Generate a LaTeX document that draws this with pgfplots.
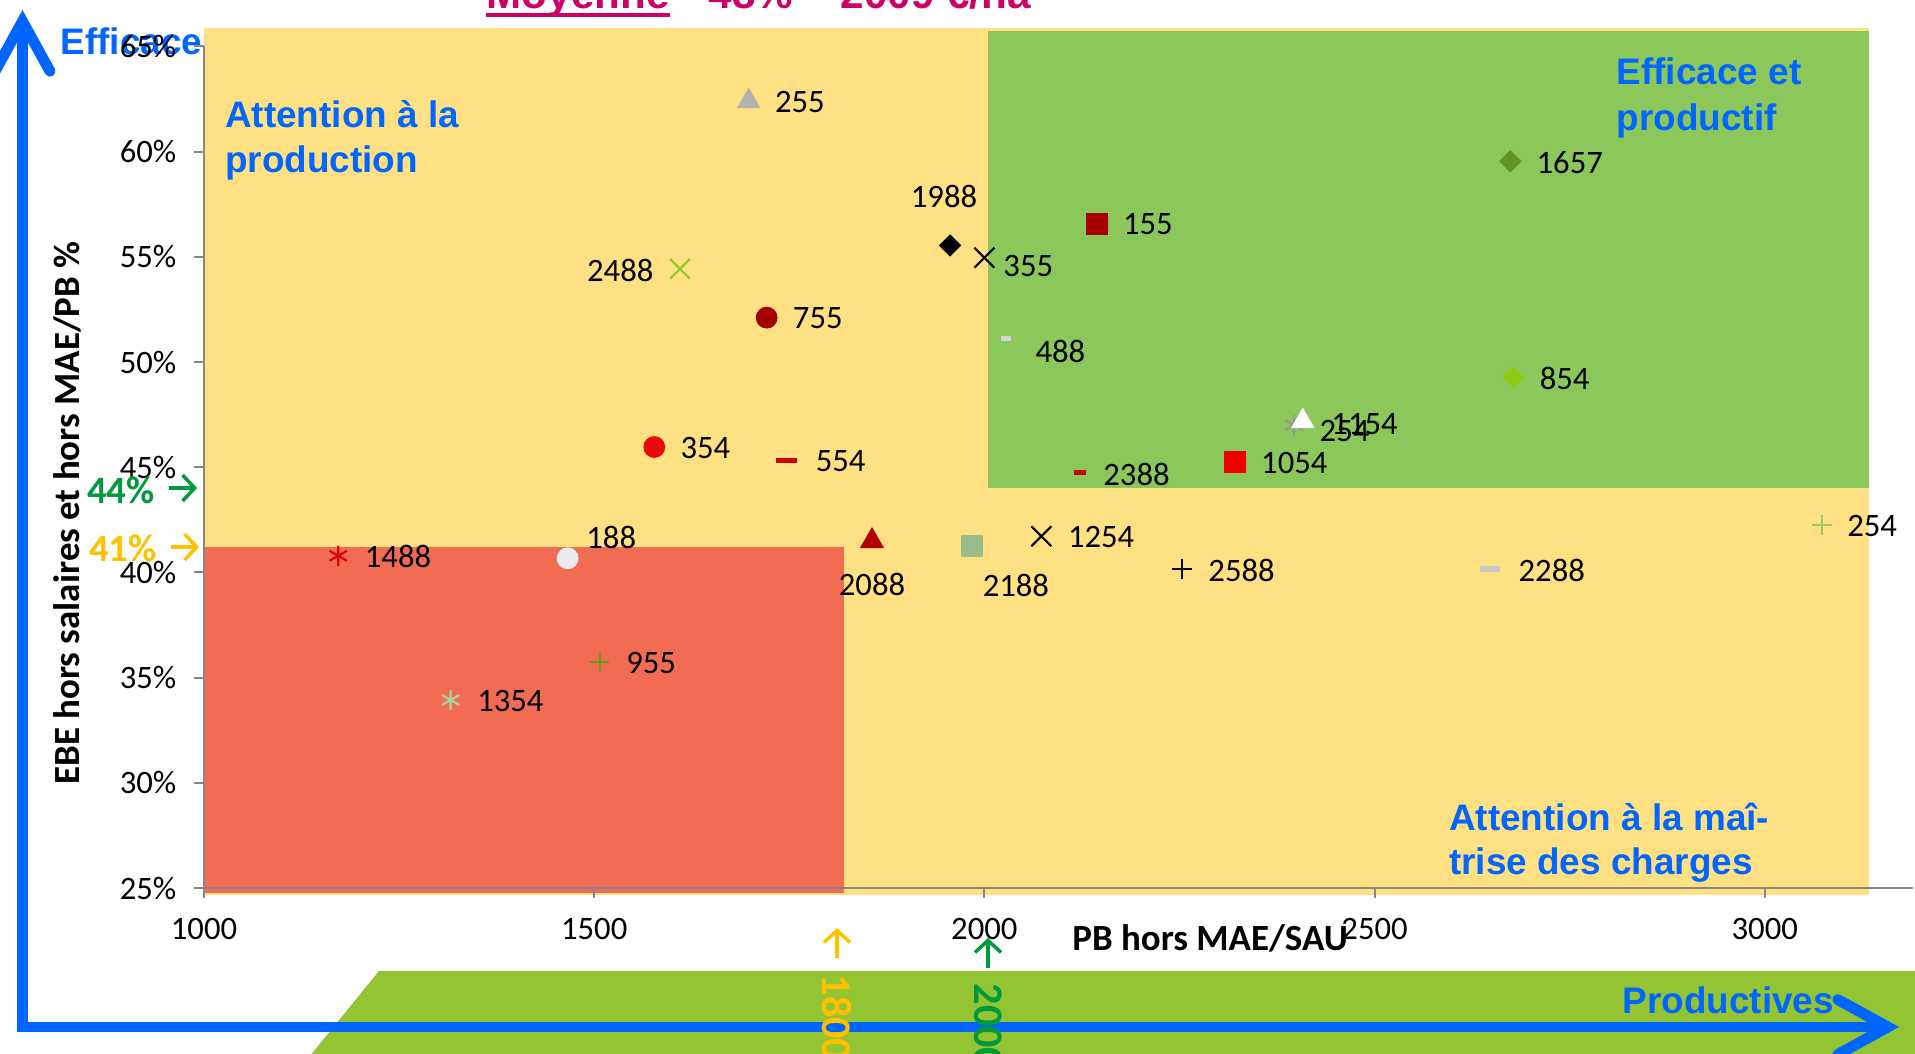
\documentclass[border=0pt]{standalone}
\usepackage{fontspec}
\setmainfont{Carlito}
\newfontfamily\arial{Liberation Sans}
\usepackage{pgfplots}
\pgfplotsset{compat=1.18}
\usetikzlibrary{arrows.meta}
\definecolor{ybg}{RGB}{255,224,130}
\definecolor{gbg}{RGB}{139,199,91}
\definecolor{rbg}{RGB}{242,108,84}
\definecolor{band}{RGB}{146,196,52}
\definecolor{bl}{RGB}{0,102,255}
\definecolor{mag}{RGB}{204,0,102}
\definecolor{org}{RGB}{255,192,0}
\definecolor{grn}{RGB}{0,153,60}
\definecolor{axg}{RGB}{134,134,134}
\definecolor{c255}{RGB}{178,178,178}
\definecolor{c155}{RGB}{168,0,0}
\definecolor{c755}{RGB}{165,0,0}
\definecolor{c354}{RGB}{232,10,10}
\definecolor{c554}{RGB}{200,0,0}
\definecolor{c1054}{RGB}{240,0,0}
\definecolor{c1488}{RGB}{225,0,0}
\definecolor{c2088}{RGB}{180,0,0}
\definecolor{c2188}{RGB}{155,187,140}
\definecolor{c2488}{RGB}{140,200,40}
\definecolor{c1657}{RGB}{96,150,30}
\definecolor{c854}{RGB}{140,205,20}
\definecolor{c254a}{RGB}{150,150,150}
\definecolor{c488}{RGB}{212,212,212}
\definecolor{c2288}{RGB}{200,200,200}
\definecolor{c254b}{RGB}{146,208,100}
\definecolor{c955}{RGB}{100,160,20}
\definecolor{c1354}{RGB}{165,215,160}
\definecolor{c188}{RGB}{235,235,240}
\newcommand\labfont{\fontsize{9.3}{11}\selectfont}
\newcommand\annfont{\arial\bfseries\fontsize{10.5}{12}\selectfont}
\begin{document}
\begin{tikzpicture}
% green band at the bottom
\fill[band] (1.75,-0.83) -- (17.4,-0.83) -- (17.4,-1.9) -- (0.88,-1.9) -- cycle;
\node[anchor=base west, inner sep=0pt, font=\annfont, text=bl] at (-1.44,8.33) {Efficaces};
\begin{axis}[
  scale only axis, width=17.09cm, height=8.416cm,
  xmin=1000, xmax=3190, ymin=25, ymax=65,
  clip=false, axis on top,
  axis x line=bottom, axis y line=left,
  axis line style={-, draw=axg, line width=0.6pt},
  tick style={draw=axg, line width=0.6pt},
  tick align=outside, major tick length=0.1cm,
  xtick={1000,1500,2000,2500,3000},
  xticklabels={1000,1500,2000,2500,3000},
  ytick={25,30,35,40,45,50,55,60,65},
  yticklabels={25\%,30\%,35\%,40\%,45\%,50\%,55\%,60\%,65\%},
  /pgf/number format/assume math mode=true,
  xticklabel style={font=\labfont, inner sep=0pt, yshift=-0.2cm},
  yticklabel style={font=\labfont, inner sep=0pt, xshift=-0.17cm},
  every axis x label/.style={at={(axis description cs:0.5887,-0.0594)}, anchor=center},
  every axis y label/.style={at={(axis description cs:-0.0802,0.4456)}, anchor=center, rotate=90},
  xlabel={\bfseries\fontsize{10.5}{12}\selectfont PB hors MAE/SAU},
  ylabel={\bfseries\fontsize{10.5}{12}\selectfont EBE hors salaires et hors MAE/PB \%},
  lab/.style={nodes near coords, point meta=explicit symbolic,
    nodes near coords style={anchor=west, xshift=0.256cm, yshift=-0.01cm, inner sep=0pt, font=\labfont, text=black}},
  labx/.style={nodes near coords, point meta=explicit symbolic,
    nodes near coords style={inner sep=0pt, font=\labfont, text=black, #1}},
  thinmk/.style={mark options={solid, line width=0.6pt}},
  diam/.style={mark=square*, mark size=2.05pt, mark options={solid, rotate=45}},
]
% background zones
\fill[ybg] (axis cs:1000,24.67) rectangle (axis cs:3133,65.87);
\fill[gbg] (axis cs:2005,44.01) rectangle (axis cs:3133,65.73);
\fill[rbg] (axis cs:1000,24.76) rectangle (axis cs:1820,41.21);

% points
\addplot[only marks, color=c255, mark=triangle*, mark size=3.5pt, lab] coordinates {(1698,62.39) [255]};
\addplot[only marks, color=black, diam, labx={anchor=center, xshift=-0.06cm, yshift=0.49cm}] coordinates {(1956,55.54) [1988]};
\addplot[only marks, color=black, mark=x, mark size=4pt, thinmk, labx={anchor=west, xshift=0.18cm, yshift=-0.085cm}] coordinates {(2000,54.96) [355]};
\addplot[only marks, color=c155, mark=square*, mark size=2.95pt, lab] coordinates {(2144,56.58) [155]};
\addplot[only marks, color=c2488, mark=x, mark size=4pt, thinmk, labx={anchor=east, xshift=-0.256cm, yshift=-0.02cm}] coordinates {(1610,54.43) [2488]};
\addplot[only marks, color=c755, mark=*, mark size=2.9pt, lab] coordinates {(1721,52.11) [755]};
\addplot[only marks, color=c488, mark=-, mark size=1.45pt, mark options={solid, line width=1.3pt}, labx={anchor=west, xshift=0.27cm, yshift=-0.13cm}] coordinates {(2028,51.12) [488]};
\addplot[only marks, color=c1657, diam, lab] coordinates {(2674,59.54) [1657]};
\addplot[only marks, color=c854, diam, lab] coordinates {(2678,49.27) [854]};
\addplot[only marks, color=c254a, mark=asterisk, mark size=2.85pt, thinmk, labx={anchor=west, xshift=0.245cm, yshift=-0.06cm}] coordinates {(2397,47.0) [254]};
\addplot[only marks, color=white, mark=triangle*, mark size=3.5pt, labx={anchor=west, xshift=0.28cm, yshift=-0.025cm}] coordinates {(2408,47.18) [1154]};
\addplot[only marks, color=c1054, mark=square*, mark size=2.95pt, lab] coordinates {(2321,45.26) [1054]};
\addplot[only marks, color=c554, mark=-, mark size=1.7pt, mark options={solid, line width=1.6pt}, labx={anchor=west, xshift=0.21cm, yshift=-0.02cm}] coordinates {(2122,44.74) [2388]};
\addplot[only marks, color=c354, mark=*, mark size=2.9pt, lab] coordinates {(1577,45.96) [354]};
\addplot[only marks, color=c554, mark=-, mark size=3pt, mark options={solid, line width=1.5pt}, labx={anchor=west, xshift=0.27cm, yshift=-0.01cm}] coordinates {(1746,45.32) [554]};
\addplot[only marks, color=c1488, mark=asterisk, mark size=2.85pt, thinmk, lab] coordinates {(1172,40.79) [1488]};
\addplot[only marks, color=c188, mark=*, mark size=2.9pt, labx={anchor=west, xshift=0.18cm, yshift=0.21cm}] coordinates {(1466,40.67) [188]};
\addplot[only marks, color=c2088, mark=triangle*, mark size=3.6pt, labx={anchor=center, xshift=0cm, yshift=-0.43cm}] coordinates {(1856,41.49) [2088]};
\addplot[only marks, color=c2188, mark=square*, mark size=2.95pt, labx={anchor=center, xshift=0.44cm, yshift=-0.40cm}] coordinates {(1984,41.26) [2188]};
\addplot[only marks, color=black, mark=x, mark size=4pt, thinmk, lab] coordinates {(2073,41.72) [1254]};
\addplot[only marks, color=black, mark=+, mark size=2.85pt, thinmk, lab] coordinates {(2253,40.15) [2588]};
\addplot[only marks, color=c2288, mark=-, mark size=2.9pt, mark options={solid, line width=1.7pt}, lab] coordinates {(2648,40.15) [2288]};
\addplot[only marks, color=c254b, mark=+, mark size=2.9pt, thinmk, labx={anchor=west, xshift=0.245cm, yshift=-0.01cm}] coordinates {(3073,42.24) [254]};
\addplot[only marks, color=c955, mark=+, mark size=2.7pt, thinmk, lab] coordinates {(1507,35.74) [955]};
\addplot[only marks, color=c1354, mark=asterisk, mark size=2.85pt, thinmk, lab] coordinates {(1316,33.94) [1354]};
\end{axis}
% blue axes arrows
\draw[bl, line width=3.1pt, line join=miter,
  {Straight Barb[length=0.5cm, width=0.55cm, line cap=round]}-{Straight Barb[length=0.5cm, width=0.55cm, line cap=round]}]
  (-1.815,8.78) |- (16.95,-1.39);
% threshold markers
\node[font=\bfseries\fontsize{11}{13}\selectfont, text=grn, inner sep=0pt] at (-0.83,3.98) {44\%};
\draw[grn, line width=1pt, -{Straight Barb[length=0.12cm, width=0.26cm]}] (-0.35,4.00) -- (-0.07,4.00);
\node[font=\bfseries\fontsize{11}{13}\selectfont, text=org, inner sep=0pt] at (-0.81,3.40) {41\%};
\draw[org, line width=1pt, -{Straight Barb[length=0.12cm, width=0.26cm]}] (-0.33,3.41) -- (-0.05,3.41);
\draw[org, line width=1pt, -{Straight Barb[length=0.12cm, width=0.26cm]}] (6.33,-0.70) -- (6.33,-0.40);
\node[rotate=-90, anchor=west, inner sep=0pt, font=\bfseries\fontsize{12}{14}\selectfont, text=org] at (6.33,-0.86) {1800};
\draw[grn, line width=1pt, -{Straight Barb[length=0.12cm, width=0.26cm]}] (7.84,-0.80) -- (7.84,-0.50);
\node[rotate=-90, anchor=west, inner sep=0pt, font=\bfseries\fontsize{12}{14}\selectfont, text=grn] at (7.84,-0.95) {2000};
% zone texts
\node[anchor=base west, inner sep=0pt, font=\annfont, text=bl] at (0.205,7.61) {Attention à la};
\node[anchor=base west, inner sep=0pt, font=\annfont, text=bl] at (0.205,7.16) {production};
\node[anchor=base west, inner sep=0pt, font=\annfont, text=bl] at (14.12,8.03) {Efficace et};
\node[anchor=base west, inner sep=0pt, font=\annfont, text=bl] at (14.12,7.57) {productif};
\node[anchor=base west, inner sep=0pt, font=\annfont, text=bl] at (12.445,0.575) {Attention à la maî-};
\node[anchor=base west, inner sep=0pt, font=\annfont, text=bl] at (12.445,0.135) {trise des charges};
\node[anchor=base west, inner sep=0pt, font=\annfont, text=bl] at (14.18,-1.25) {Productives};
% title (cut at the top)
\node[anchor=base west, inner sep=0pt, font=\arial\bfseries\fontsize{12}{14}\selectfont, text=mag] at (2.82,8.79) {Moyenne};
\fill[mag] (2.82,8.708) rectangle (4.66,8.752);
\node[anchor=base west, inner sep=0pt, font=\arial\bfseries\fontsize{12}{14}\selectfont, text=mag] at (5.04,8.79) {48\%};
\node[anchor=base west, inner sep=0pt, font=\arial\bfseries\fontsize{12}{14}\selectfont, text=mag] at (6.36,8.79) {2009 €/ha};
\pgfresetboundingbox
\useasboundingbox (-2.04,-1.65) rectangle (17.11,8.88);
\end{tikzpicture}
\end{document}
